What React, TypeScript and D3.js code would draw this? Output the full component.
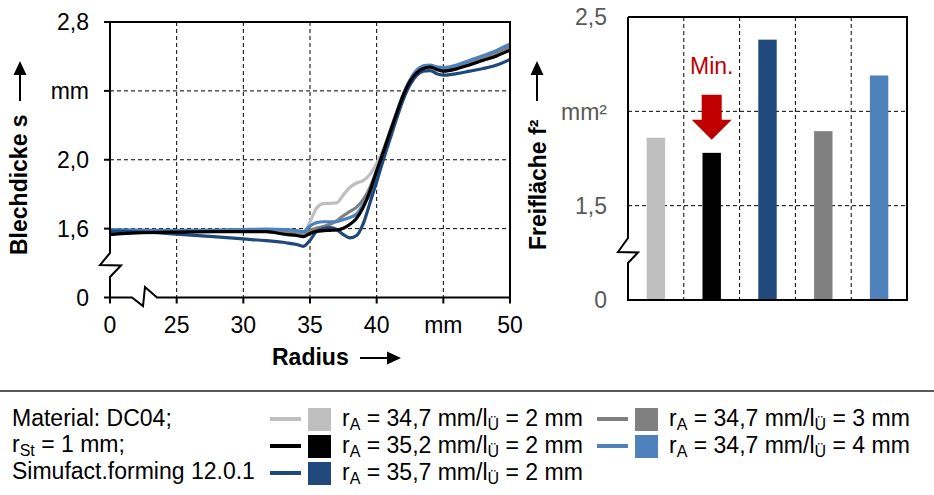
import React from "react";
import * as d3 from "d3";

// radius positions (mm) shared by all thickness curves
const radius = [20, 22, 25, 28, 30, 31.7, 33.2, 34, 34.5, 35, 35.5, 36, 36.5, 37, 37.5, 38, 38.5, 39, 39.5, 40, 40.5, 41, 41.5, 42, 42.5, 43, 43.5, 44, 44.5, 45, 46, 47, 48, 49, 50];

const s347_2 = [1.58, 1.583, 1.585, 1.588, 1.59, 1.59, 1.58, 1.575, 1.575, 1.64, 1.72, 1.745, 1.747, 1.75, 1.795, 1.84, 1.865, 1.88, 1.915, 1.98, 2.06, 2.165, 2.275, 2.38, 2.46, 2.51, 2.535, 2.543, 2.53, 2.522, 2.538, 2.563, 2.588, 2.618, 2.65];
const s347_3 = [1.58, 1.583, 1.585, 1.588, 1.59, 1.59, 1.578, 1.57, 1.563, 1.59, 1.603, 1.612, 1.625, 1.645, 1.675, 1.7, 1.725, 1.77, 1.84, 1.94, 2.05, 2.165, 2.275, 2.38, 2.46, 2.51, 2.535, 2.543, 2.53, 2.522, 2.538, 2.565, 2.59, 2.62, 2.653];
const s347_4 = [1.595, 1.592, 1.59, 1.592, 1.595, 1.597, 1.595, 1.588, 1.582, 1.615, 1.635, 1.64, 1.64, 1.641, 1.652, 1.665, 1.685, 1.74, 1.8, 1.9, 2.03, 2.15, 2.27, 2.38, 2.465, 2.52, 2.545, 2.55, 2.54, 2.535, 2.55, 2.578, 2.605, 2.635, 2.672];
const s357_2 = [1.585, 1.582, 1.568, 1.552, 1.54, 1.53, 1.518, 1.508, 1.497, 1.532, 1.585, 1.6, 1.606, 1.595, 1.565, 1.546, 1.56, 1.63, 1.75, 1.872, 2.0, 2.12, 2.24, 2.35, 2.435, 2.49, 2.515, 2.518, 2.5, 2.492, 2.5, 2.515, 2.53, 2.55, 2.583];
const s352_2 = [1.565, 1.575, 1.58, 1.582, 1.583, 1.582, 1.566, 1.56, 1.553, 1.572, 1.584, 1.588, 1.59, 1.592, 1.602, 1.625, 1.66, 1.725, 1.82, 1.935, 2.045, 2.16, 2.27, 2.375, 2.455, 2.505, 2.53, 2.538, 2.525, 2.515, 2.528, 2.552, 2.578, 2.603, 2.637];

// free area f2 (mm²) per configuration
const barKeys = ["34,7/2", "35,2/2", "35,7/2", "34,7/3", "34,7/4"];
const barValues = [1.86, 1.78, 2.38, 1.895, 2.19];

const xTicks = [20, 25, 30, 35, 40, 45, 50];
const xTickLabels = ["0", "25", "30", "35", "40", "mm", "50"];
const yTicks = [1.2, 1.6, 2.0, 2.4, 2.8];
const yTickLabels = ["0", "1,6", "2,0", "mm", "2,8"];
const y2Ticks = [1.0, 1.5, 2.0, 2.5];
const y2TickLabels = ["0", "1,5", "mm²", "2,5"];

const C = {
  lightGray: "#BFBFBF",
  black: "#000000",
  darkBlue: "#1F497D",
  gray: "#808080",
  lightBlue: "#4F81BD",
};

const FONT = "'Liberation Sans', Arial, sans-serif";
const FS = 23;
const SUB = 16;

const series = [
  { key: "347_2", values: s347_2, color: C.lightGray },
  { key: "347_3", values: s347_3, color: C.gray },
  { key: "347_4", values: s347_4, color: C.lightBlue },
  { key: "357_2", values: s357_2, color: C.darkBlue },
  { key: "352_2", values: s352_2, color: C.black },
];
const barColors = [C.lightGray, C.black, C.darkBlue, C.gray, C.lightBlue];

const legendItems = [
  { color: C.lightGray, ra: "34,7", lu: "2", col: 0, row: 0 },
  { color: C.black, ra: "35,2", lu: "2", col: 0, row: 1 },
  { color: C.darkBlue, ra: "35,7", lu: "2", col: 0, row: 2 },
  { color: C.gray, ra: "34,7", lu: "3", col: 1, row: 0 },
  { color: C.lightBlue, ra: "34,7", lu: "4", col: 1, row: 1 },
];

const L = { left: 110, right: 510, top: 22, bottom: 297.5 };
const R = { left: 628, right: 907, top: 17, bottom: 300 };

export default function App() {
  const x = d3.scaleLinear().domain([20, 50]).range([L.left, L.right]);
  const y = d3.scaleLinear().domain([1.2, 2.8]).range([L.bottom, L.top]);
  const xb = d3.scaleBand().domain(barKeys).range([R.left, R.right]);
  const y2 = d3.scaleLinear().domain([1.0, 2.5]).range([R.bottom, R.top]);

  const lineGen = d3
    .line<number>()
    .x((d, i) => x(radius[i]))
    .y((d) => y(d))
    .curve(d3.curveMonotoneX);

  const barW = xb.bandwidth() * 0.33;
  const minIdx = 1;
  const ax = xb(barKeys[minIdx])! + xb.bandwidth() / 2;
  const aTip = y2(barValues[minIdx]) - 13;

  const rowY = [419, 446, 473];
  const colX = [270, 597];

  return (
    <svg
      width={934}
      height={495}
      style={{ position: "absolute", left: 0, top: 0, background: "#fff" }}
      fontFamily={FONT}
    >
      {/* left chart: sheet thickness */}
      <g>
        {xTicks.slice(1, -1).map((t) => (
          <line key={t} x1={x(t)} x2={x(t)} y1={L.top} y2={L.bottom} stroke="#000" strokeDasharray="4,3" />
        ))}
        {yTicks.slice(1, -1).map((t) => (
          <line key={t} x1={L.left} x2={L.right} y1={y(t)} y2={y(t)} stroke="#000" strokeDasharray="4,3" />
        ))}
        {series.map((s) => (
          <path key={s.key} d={lineGen(s.values)!} fill="none" stroke={s.color} strokeWidth={3.2} strokeLinejoin="round" />
        ))}
        {/* frame with axis breaks */}
        <path
          d={`M${L.left},${L.top}H${L.right}V${L.bottom}H157L145,287L143,306L132,${L.bottom}H${L.left}V277L121,265.5L100,265L${L.left},253V${L.top}`}
          fill="none"
          stroke="#000"
          strokeWidth={2}
        />
        {yTicks.map((t, i) => (
          <g key={t}>
            <line x1={L.left - 6} x2={L.left} y1={y(t)} y2={y(t)} stroke="#000" strokeWidth={2} />
            <text x={89} y={y(t)} dy="0.36em" textAnchor="end" fontSize={FS} fill="#000">
              {yTickLabels[i]}
            </text>
          </g>
        ))}
        {xTicks.map((t, i) => (
          <g key={t}>
            <line x1={x(t)} x2={x(t)} y1={L.bottom} y2={L.bottom + 6} stroke="#000" strokeWidth={2} />
            <text x={x(t)} y={333} textAnchor="middle" fontSize={FS} fill="#000">
              {xTickLabels[i]}
            </text>
          </g>
        ))}
        <text x={272} y={365} fontSize={FS} fontWeight="bold">Radius</text>
        <line x1={360} x2={390} y1={358} y2={358} stroke="#000" strokeWidth={2} />
        <path d="M401,358L387,351.5L387,364.5Z" fill="#000" />
        <text transform="translate(27,255) rotate(-90)" fontSize={FS} fontWeight="bold">Blechdicke s</text>
        <line x1={20} x2={20} y1={101} y2={72} stroke="#000" strokeWidth={2} />
        <path d="M20,61L13.5,75L26.5,75Z" fill="#000" />
      </g>

      {/* right chart: free area */}
      <g>
        {barKeys.slice(1).map((k) => (
          <line key={k} x1={xb(k)} x2={xb(k)} y1={R.top} y2={R.bottom} stroke="#000" strokeDasharray="4,3" />
        ))}
        {y2Ticks.slice(1, -1).map((t) => (
          <line key={t} x1={R.left} x2={R.right} y1={y2(t)} y2={y2(t)} stroke="#000" strokeDasharray="4,3" />
        ))}
        {barKeys.map((k, i) => (
          <rect
            key={k}
            x={xb(k)! + xb.bandwidth() / 2 - barW / 2}
            y={y2(barValues[i])}
            width={barW}
            height={R.bottom - y2(barValues[i])}
            fill={barColors[i]}
          />
        ))}
        <path
          d={`M${R.left},${R.top}H${R.right}V${R.bottom}H${R.left}V263L638,252.5L618,252L${R.left},238V${R.top}`}
          fill="none"
          stroke="#000"
          strokeWidth={2}
        />
        {y2Ticks.map((t, i) => (
          <text key={t} x={607} y={y2(t)} dy="0.36em" textAnchor="end" fontSize={FS} fill="#595959">
            {y2TickLabels[i]}
          </text>
        ))}
        <path
          d={`M${ax - 10},${aTip - 45}H${ax + 10}V${aTip - 20}H${ax + 20}L${ax},${aTip}L${ax - 20},${aTip - 20}H${ax - 10}Z`}
          fill="#C00000"
        />
        <text x={ax} y={74} textAnchor="middle" fontSize={FS} fill="#C00000">Min.</text>
        <text transform="translate(546,250) rotate(-90)" fontSize={FS} fontWeight="bold">Freifläche f²</text>
        <line x1={537} x2={537} y1={101} y2={72} stroke="#000" strokeWidth={2} />
        <path d="M537,61L530.5,75L543.5,75Z" fill="#000" />
      </g>

      {/* legend */}
      <line x1={0} x2={934} y1={391} y2={391} stroke="#595959" strokeWidth={2} />
      <g fontSize={FS} fill="#000">
        <text x={12} y={426}>Material: DC04;</text>
        <text x={12} y={452}>
          r<tspan fontSize={SUB} dy={4}>St</tspan>
          <tspan dy={-4}> = 1 mm;</tspan>
        </text>
        <text x={12} y={479}>Simufact.forming 12.0.1</text>
        {legendItems.map((it, i) => {
          const lx = colX[it.col];
          const ly = rowY[it.row];
          return (
            <g key={i}>
              <line x1={lx} x2={lx + 31} y1={ly} y2={ly} stroke={it.color} strokeWidth={4} />
              <rect x={lx + 38} y={ly - 11} width={23} height={23} fill={it.color} />
              <text x={lx + 72} y={ly + 7}>
                r<tspan fontSize={SUB} dy={4}>A</tspan>
                <tspan dy={-4}>{` = ${it.ra} mm/l`}</tspan>
                <tspan fontSize={SUB} dy={4}>Ü</tspan>
                <tspan dy={-4}>{` = ${it.lu} mm`}</tspan>
              </text>
            </g>
          );
        })}
      </g>
    </svg>
  );
}
